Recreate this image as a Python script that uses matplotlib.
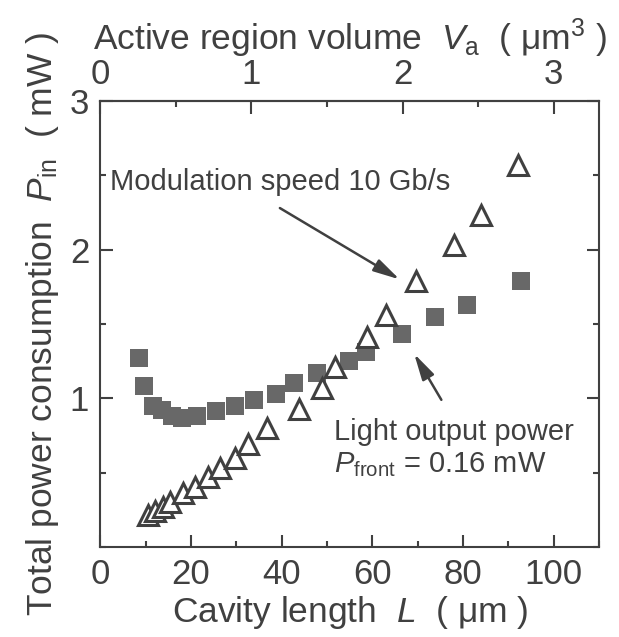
import matplotlib.pyplot as plt
from matplotlib.ticker import MultipleLocator

plt.rcParams['font.family'] = 'Liberation Sans'
plt.rcParams['mathtext.fontset'] = 'custom'
plt.rcParams['mathtext.rm'] = 'Liberation Sans'
plt.rcParams['mathtext.it'] = 'Liberation Sans:italic'

ink = '#404040'

# filled squares: total power consumption vs cavity length
sq_L = [8.5, 9.6, 11.7, 13.7, 15.9, 18.1, 21.4, 25.6, 29.8, 33.9, 38.7,
        42.8, 47.8, 54.8, 58.6, 66.6, 73.7, 80.8, 92.8]
sq_P = [1.27, 1.08, 0.95, 0.92, 0.88, 0.87, 0.88, 0.915, 0.95, 0.99, 1.03,
        1.10, 1.17, 1.25, 1.31, 1.43, 1.55, 1.63, 1.79]

# open triangles
tri_L = [10.6, 12.0, 13.9, 15.4, 18.3, 20.9, 23.8, 26.4, 29.7, 32.6, 36.7,
         43.8, 48.8, 51.7, 58.8, 62.9, 69.6, 77.9, 84.0, 92.1]
tri_P = [0.215, 0.24, 0.27, 0.305, 0.36, 0.405, 0.47, 0.53, 0.60, 0.69, 0.80,
         0.93, 1.07, 1.21, 1.41, 1.56, 1.79, 2.03, 2.23, 2.57]

x_ticks = [0, 20, 40, 60, 80, 100]
y_ticks = [1, 2, 3]
va_ticks = [0, 1, 2, 3]
va_per_L = 0.03  # um^3 per um of cavity length

fig = plt.figure(figsize=(6.19, 6.37), dpi=100)
ax = fig.add_axes([0.162, 0.1413, 0.806, 0.7001])

ax.plot(sq_L, sq_P, 's', ms=13, mfc='#686868', mec='#686868', mew=0)
ax.plot(tri_L, tri_P, '^', ms=14, mfc='white', mec=ink, mew=2.2)

ax.set_xlim(0, 110)
ax.set_ylim(0, 3)
ax.set_xticks(x_ticks)
ax.set_yticks(y_ticks)
ax.xaxis.set_minor_locator(MultipleLocator(10))
ax.yaxis.set_minor_locator(MultipleLocator(0.5))
for s in ax.spines.values():
    s.set_color(ink)
    s.set_linewidth(1.5)
ax.tick_params(which='both', direction='in', right=True, top=False,
               colors=ink, labelsize=25, width=1.5)
ax.tick_params(which='major', length=9, pad=8)
ax.tick_params(which='minor', length=4.5)

top = ax.secondary_xaxis('top', functions=(lambda L: L * va_per_L,
                                           lambda v: v / va_per_L))
top.set_xticks(va_ticks)
top.xaxis.set_minor_locator(MultipleLocator(0.5))
top.spines['top'].set_color(ink)
top.spines['top'].set_linewidth(1.5)
top.tick_params(which='both', direction='in', colors=ink, labelsize=25, width=1.5)
top.tick_params(which='major', length=9, pad=7)
top.tick_params(which='minor', length=4.5)

ax.set_xlabel('Cavity length  $L$  ( μm )', fontsize=25.5, color=ink, labelpad=2)
ax.set_ylabel('Total power consumption  $P_\\mathrm{in}$  ( mW )', fontsize=25.5,
              color=ink, labelpad=6)
top.set_xlabel('Active region volume  $V_\\mathrm{a}$  ( μm$^3$ )', fontsize=25.5,
               color=ink, labelpad=6)

ax.text(2.2, 2.40, 'Modulation speed 10 Gb/s', fontsize=21, color=ink,
        va='baseline')
ax.annotate('', xy=(66.0, 1.80), xytext=(39.6, 2.28),
            arrowprops=dict(arrowstyle='-|>,head_length=1.6,head_width=0.4',
                            mutation_scale=10, color=ink, lw=1.8,
                            shrinkA=0, shrinkB=0))

ax.text(51.5, 0.72, 'Light output power', fontsize=21, color=ink, va='baseline')
ax.text(51.5, 0.505, '$P_\\mathrm{front}$ = 0.16 mW', fontsize=21, color=ink,
        va='baseline')
ax.annotate('', xy=(69.2, 1.30), xytext=(75.2, 0.99),
            arrowprops=dict(arrowstyle='-|>,head_length=1.6,head_width=0.4',
                            mutation_scale=10, color=ink, lw=1.8,
                            shrinkA=0, shrinkB=0))

fig.savefig('out.png', dpi=100)
